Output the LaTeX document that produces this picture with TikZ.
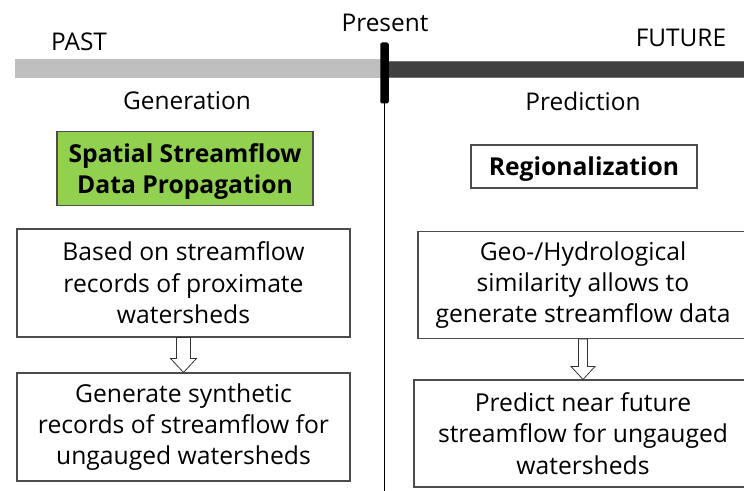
\documentclass[tikz,border=0pt]{standalone}
\usepackage{fontspec}
\setmainfont{Open Sans}
\usetikzlibrary{calc}
\definecolor{barlight}{HTML}{BFBFBF}
\definecolor{bardark}{HTML}{404040}
\definecolor{greenbox}{HTML}{92D050}
\begin{document}
\begin{tikzpicture}[x=0.75pt,y=-0.75pt,
  box/.style={draw=black!70, line width=0.8pt, fill=white, align=center, inner sep=0pt,
    font=\fontsize{18.5}{23.5}\selectfont},
  titlebox/.style={draw=black!70, line width=0.8pt, inner sep=0pt},
  titletext/.style={align=center, inner sep=0pt, font=\bfseries\fontsize{18.5}{23}\selectfont},
  lbl/.style={inner sep=0pt, font=\fontsize{18.3}{20}\selectfont},
  blockarrow/.style={draw=black!80, line width=0.6pt, fill=white}]
\useasboundingbox (0,0) rectangle (744,491);
\clip (0,0) rectangle (744,491);
% timeline
\fill[barlight] (15,59.5) rectangle (384,78.5);
\fill[bardark] (384,61) rectangle (744,77);
\draw[black!55, line width=0.5pt] (384,61) -- (744,61) (384,77) -- (744,77);
\coordinate (ltop) at (384.5,100);
\coordinate (lbot) at (384.5,491);
\draw[line width=1.4pt] (ltop) -- (lbot);
\node[fill=black, rounded corners=1.5pt, minimum width=8.5*0.75pt, minimum height=61*0.75pt, inner sep=0pt] (marker) at (384.5,73) {};
% labels
\node[lbl] (past) at (79,42) {PAST};
\node[lbl] (present) at (385,23) {Present};
\node[lbl] (future) at (681,38) {FUTURE};
\node[lbl] (gen) at (187,101) {Generation};
\node[lbl] (pred) at (583,101) {Prediction};
% left column
\node[titlebox, fill=greenbox, minimum width=256*0.75pt, minimum height=74*0.75pt] (spdp) at (185,168.5) {};
\node[titletext] (spdptext) at ($(spdp.center)+(0,3)$) {Spatial Streamflow\\Data Propagation};
\node[box, minimum width=333*0.75pt, minimum height=108*0.75pt] (b1) at (183.5,283) {Based on streamflow\\records of proximate\\watersheds};
\node[box, minimum width=333*0.75pt, minimum height=108*0.75pt] (b2) at (183.5,427) {Generate synthetic\\records of streamflow for\\ungauged watersheds};
% right column
\node[titlebox, fill=white, minimum width=226*0.75pt, minimum height=43*0.75pt] (reg) at (584,166.5) {};
\node[titletext] (regtext) at ($(reg.center)+(0,3)$) {Regionalization};
\node[box, minimum width=330*0.75pt, minimum height=107*0.75pt] (b3) at (583,285) {Geo-/Hydrological\\similarity allows to\\generate streamflow data};
\node[box, minimum width=338*0.75pt, minimum height=107*0.75pt] (b4) at (583,433.5) {Predict near future\\streamflow for ungauged\\watersheds};
% block arrows
\draw[blockarrow] ($(b1.south)+(-7,0)$) -- ($(b1.south)+(7,0)$) -- ($(b2.north)+(7,-14)$) -- ($(b2.north)+(13,-14)$)
  -- (b2.north) -- ($(b2.north)+(-13,-14)$) -- ($(b2.north)+(-7,-14)$) -- cycle;
\draw[blockarrow] ($(b3.south)+(-4.5,0)$) -- ($(b3.south)+(4.5,0)$) -- ($(b4.north)+(4.5,-13)$) -- ($(b4.north)+(12,-13)$)
  -- (b4.north) -- ($(b4.north)+(-12,-13)$) -- ($(b4.north)+(-4.5,-13)$) -- cycle;
\end{tikzpicture}
\end{document}
